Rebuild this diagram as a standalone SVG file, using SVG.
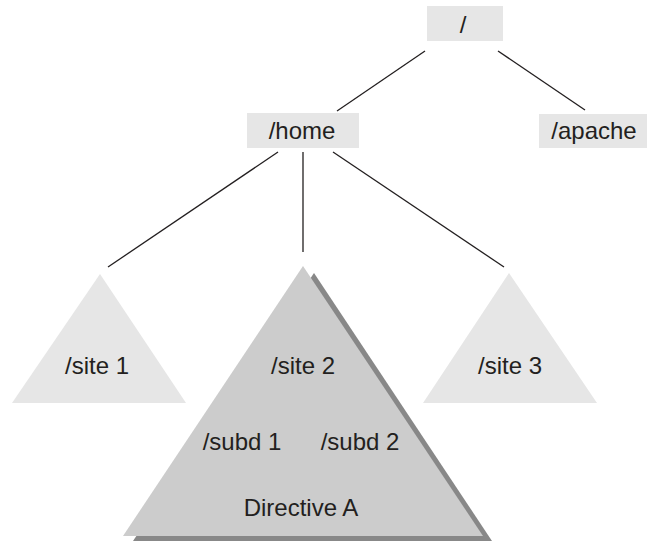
<svg xmlns="http://www.w3.org/2000/svg" width="647" height="541" viewBox="0 0 647 541">
<style>
.box{fill:#e6e6e6}
.lt{fill:#e6e6e6}
.t{font-family:"Liberation Sans",Arial,sans-serif;font-size:24px;fill:#231f20;text-anchor:middle}
.c{stroke:#231f20;stroke-width:1.3;fill:none}
</style>
<rect width="647" height="541" fill="#fff"/>
<g id="connectors">
<line class="c" x1="425" y1="51" x2="337" y2="111"/>
<line class="c" x1="498" y1="51" x2="585" y2="110"/>
<line class="c" x1="278" y1="152" x2="108" y2="267"/>
<line class="c" x1="303" y1="152" x2="303" y2="252" stroke="#444" stroke-width="1.6"/>
<line class="c" x1="333" y1="152" x2="504" y2="267"/>
</g>
<g id="root">
<rect class="box" x="427" y="6" width="76" height="35"/>
<text class="t" x="463" y="33">/</text>
</g>
<g id="home">
<rect class="box" x="247" y="113" width="112" height="35"/>
<text class="t" x="302" y="139">/home</text>
</g>
<g id="apache">
<rect class="box" x="539" y="114" width="108" height="34"/>
<text class="t" x="594" y="139">/apache</text>
</g>
<g id="site1">
<polygon class="lt" points="100,274 12,403 186,403"/>
<text class="t" x="97" y="374">/site 1</text>
</g>
<g id="site2">
<polygon points="314,273 492,541 133,541" fill="#888"/>
<polygon points="303,266 483,536 123,536" fill="#cccccc"/>
<text class="t" x="303" y="374">/site 2</text>
<text class="t" x="242" y="450">/subd 1</text>
<text class="t" x="360" y="450">/subd 2</text>
<text class="t" x="301" y="516">Directive A</text>
</g>
<g id="site3">
<polygon class="lt" points="509,273 423,403 597,403"/>
<text class="t" x="510" y="374">/site 3</text>
</g>
</svg>
